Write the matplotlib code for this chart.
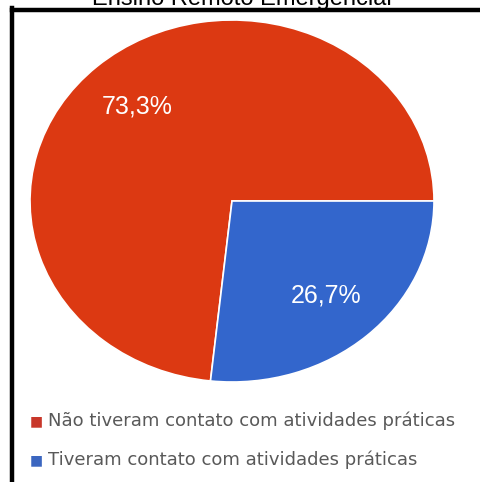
import matplotlib
matplotlib.use("Agg")
import matplotlib.pyplot as plt
from matplotlib.lines import Line2D

# dados do gráfico
titulo = "Ensino Remoto Emergencial"
categorias = ["Não tiveram contato com atividades práticas",
              "Tiveram contato com atividades práticas"]
valores = [73.3, 26.7]
cores = ["#DC3912", "#3366CC"]
cores_legenda = ["#C8372A", "#3B66C0"]

W, H = 480, 482
fig = plt.figure(figsize=(W / 100, H / 100), dpi=100)
fig.patch.set_facecolor("white")

# pizza esticada na horizontal (eixo com aspecto livre)
ax = fig.add_axes([30 / W, 1 - 382 / H, 404 / W, 362 / H])
wedges, textos, pcts = ax.pie(
    valores, colors=cores, startangle=0, counterclock=True,
    autopct=lambda p: f"{p:.1f}%".replace(".", ","), pctdistance=0.70,
    wedgeprops=dict(edgecolor="white", linewidth=1.2),
    textprops=dict(color="white", fontsize=18, family="Liberation Sans"))
ax.set_aspect("auto")
ax.set_xlim(-1, 1)
ax.set_ylim(-1, 1)

# titulo (cortado no topo)
fig.text(242 / W, 1 - 5.5 / H, titulo, ha="center", va="baseline",
         fontsize=17, family="Liberation Sans", color="black")

# moldura preta
fig.add_artist(Line2D([12 / W, 12 / W], [0, 1 - 8 / H], transform=fig.transFigure,
                      color="black", linewidth=3.2, solid_capstyle="projecting"))
fig.add_artist(Line2D([12 / W, 1], [1 - 10 / H, 1 - 10 / H], transform=fig.transFigure,
                      color="black", linewidth=3.2, solid_capstyle="projecting"))

# legenda
linhas_y = [421, 460]
for cat, cor, y in zip(categorias, cores_legenda, linhas_y):
    fig.text(30 / W, 1 - y / H, "\u25A0", ha="left", va="center",
             fontsize=10, color=cor, family="DejaVu Sans")
    fig.text(48 / W, 1 - y / H, cat, ha="left", va="center",
             fontsize=13, color="#595959", family="DejaVu Sans")

fig.savefig("out.png", dpi=100)
